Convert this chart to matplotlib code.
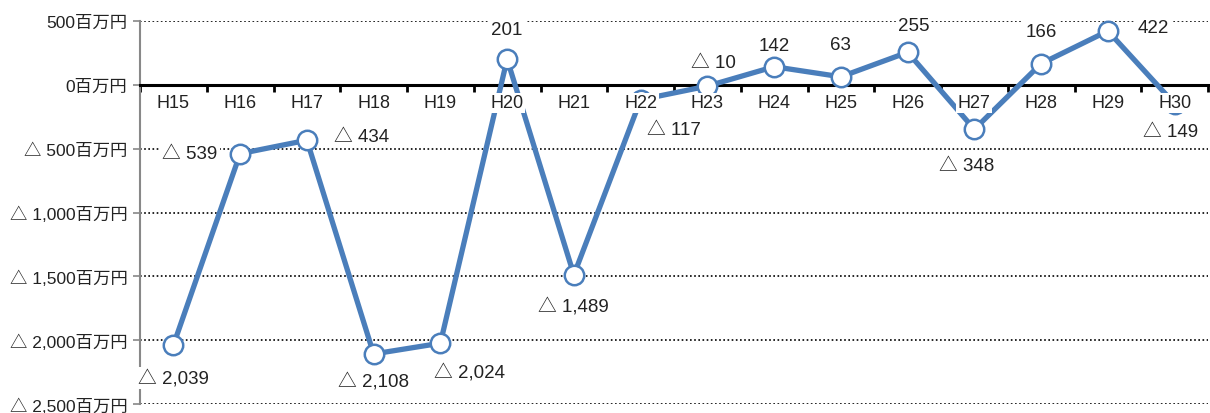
import numpy as np
import matplotlib
matplotlib.use("Agg")
from matplotlib import pyplot as plt

plt.rcParams['font.family'] = ['Liberation Sans', 'Noto Sans CJK JP', 'DejaVu Sans']

years = ['H15', 'H16', 'H17', 'H18', 'H19', 'H20', 'H21', 'H22',
         'H23', 'H24', 'H25', 'H26', 'H27', 'H28', 'H29', 'H30']
values = [-2039, -539, -434, -2108, -2024, 201, -1489, -117,
          -10, 142, 63, 255, -348, 166, 422, -149]
yticks = [500, 0, -500, -1000, -1500, -2000, -2500]

# label offsets in pixels (dx, dy) from each point
label_offsets = [(0, -33), (-50, 0), (55, 4), (0, -28), (29, -29), (0, 30),
                 (0, -32), (33, -30), (6, 24), (0, 21), (0, 32), (6, 27),
                 (-8, -36), (0, 32), (45, 3), (-4, -28)]


def fmt(v, unit=''):
    if v < 0:
        return '△ {:,}{}'.format(-v, unit)
    return '{:,}{}'.format(v, unit)


blue = '#4a7ebb'
fig = plt.figure(figsize=(12.1, 4.14), dpi=100)
ax = fig.add_axes([140 / 1210, 1 - 405 / 414, 1068 / 1210, 383 / 414])

x = np.arange(len(years))
ax.set_xlim(-0.5, len(years) - 0.5)
ax.set_ylim(-2500, 500)

for yv in yticks:
    if yv != 0:
        ax.axhline(yv, color='black', lw=1.2, ls=(0, (1, 1.5)), zorder=1)

ax.plot(x, values, color=blue, lw=3.8, marker='o', markersize=14,
        markerfacecolor='white', markeredgecolor=blue, markeredgewidth=1.8,
        zorder=3, clip_on=False)

for i, v in enumerate(values):
    dx, dy = label_offsets[i]
    ax.annotate(fmt(v), (i, v), xytext=(dx, dy), textcoords='offset pixels',
                ha='center', va='center', fontsize=13.5, color='#222222',
                bbox=dict(facecolor='white', edgecolor='none', pad=1.5),
                zorder=5)

for i, yr in enumerate(years):
    ax.annotate(yr, (i, 0), xytext=(0, -18), textcoords='offset pixels',
                ha='center', va='center', fontsize=13, color='#222222',
                bbox=dict(facecolor='white', edgecolor='none', pad=1.0),
                zorder=5)

ax.spines['top'].set_visible(False)
ax.spines['right'].set_visible(False)
ax.spines['bottom'].set_position(('data', 0))
ax.spines['bottom'].set_color('black')
ax.spines['bottom'].set_linewidth(2.2)
ax.spines['left'].set_color('#888888')
ax.spines['left'].set_linewidth(1.5)

ax.set_xticks(np.arange(-0.5, len(years), 1.0))
ax.set_xticklabels([])
ax.tick_params(axis='x', direction='out', length=5, width=2, color='black')

ax.set_yticks(yticks)
ax.set_yticklabels([fmt(v, '百万円') for v in yticks], fontsize=12.5,
                   color='#222222')
ax.tick_params(axis='y', direction='out', length=5, width=1.2,
               color='#888888', pad=4)

fig.savefig('out.png', dpi=100)
